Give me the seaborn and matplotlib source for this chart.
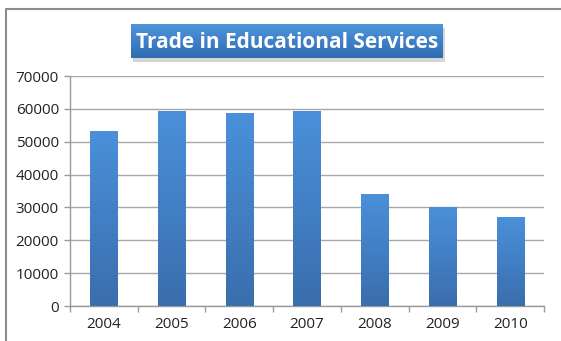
import numpy as np
import pandas as pd
import matplotlib
matplotlib.use("Agg")
import matplotlib.pyplot as plt
from matplotlib.lines import Line2D
from matplotlib.colors import LinearSegmentedColormap
import seaborn as sns

years = ["2004", "2005", "2006", "2007", "2008", "2009", "2010"]
trade_value = [53200, 59300, 58600, 59300, 34100, 30000, 27000]
y_ticks = [0, 10000, 20000, 30000, 40000, 50000, 60000, 70000]
title_text = "Trade in Educational Services"

sns.set_theme(style="white")
plt.rcParams["font.family"] = ["Open Sans", "DejaVu Sans"]

df = pd.DataFrame({"year": years, "value": trade_value})

fig = plt.figure(figsize=(5.61, 3.41), dpi=100)
ax = fig.add_axes([70 / 561, 1 - 306 / 341, 474 / 561, 230 / 341])

sns.barplot(data=df, x="year", y="value", ax=ax, width=0.4,
            color="#4a8fd6", saturation=1, edgecolor="none")

# vertical gradient fill on each bar, lighter at the top
bar_cmap = LinearSegmentedColormap.from_list("bar", ["#3a6ead", "#4a90da"])
grad = np.linspace(0, 1, 256).reshape(-1, 1)
for bar in ax.patches:
    x0, y0 = bar.get_x(), bar.get_y()
    w, h = bar.get_width(), bar.get_height()
    im = ax.imshow(grad, cmap=bar_cmap, origin="lower", aspect="auto",
                   extent=[x0, x0 + w, y0, y0 + h], zorder=3)
    im.set_clip_path(bar)
    bar.set_zorder(3)

ax.set_xlim(-0.5, len(years) - 0.5)
ax.set_ylim(0, 70000)
ax.set_yticks(y_ticks)
ax.set_yticklabels([str(v) for v in y_ticks])
ax.set_xlabel("")
ax.set_ylabel("")

ax.yaxis.grid(True, color="#a8a8a8", linewidth=1.0)
ax.set_axisbelow(True)

for side in ["top", "right"]:
    ax.spines[side].set_visible(False)
for side in ["left", "bottom"]:
    ax.spines[side].set_color("#9a9a9a")
    ax.spines[side].set_linewidth(1.0)

ax.tick_params(axis="y", which="major", length=4, width=1, color="#9a9a9a",
               labelsize=11, labelcolor="#222222", pad=4, left=True)
ax.tick_params(axis="x", which="major", length=0, labelsize=11,
               labelcolor="#222222", pad=8)
ax.set_xticks(np.arange(-0.5, len(years)), minor=True)
ax.tick_params(axis="x", which="minor", length=4, width=1, color="#9a9a9a",
               bottom=True)

# title box with a blue gradient and soft shadow beneath it
tx0, ty0, tw, th = 131 / 561, 1 - 58 / 341, 312 / 561, 34 / 341
shadow_ax = fig.add_axes([tx0 + 0.003, ty0 - 0.012, tw, th], zorder=1)
shadow_ax.set_facecolor("#000000")
shadow_ax.patch.set_alpha(0.16)
shadow_ax.set_xticks([])
shadow_ax.set_yticks([])
for s in shadow_ax.spines.values():
    s.set_visible(False)

title_ax = fig.add_axes([tx0, ty0, tw, th], zorder=2)
title_cmap = LinearSegmentedColormap.from_list("title", ["#2f6cb4", "#4f95dc"])
title_ax.imshow(grad, cmap=title_cmap, origin="lower", aspect="auto",
                extent=[0, 1, 0, 1])
title_ax.set_axis_off()
title_ax.text(0.5, 0.47, title_text, ha="center", va="center",
              color="white", fontsize=15, fontweight="bold",
              transform=title_ax.transAxes)

# frame lines along the top and left edges
fig.add_artist(Line2D([6 / 561, 1], [1 - 9 / 341, 1 - 9 / 341],
                      transform=fig.transFigure, color="#8c8c8c", linewidth=1.5))
fig.add_artist(Line2D([6 / 561, 6 / 561], [0, 1 - 9 / 341],
                      transform=fig.transFigure, color="#8c8c8c", linewidth=1.5))

fig.savefig("out.png", dpi=100, facecolor="white")
